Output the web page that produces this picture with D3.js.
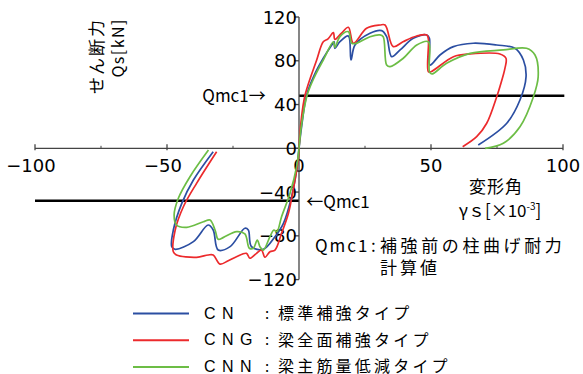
<!DOCTYPE html>
<html><head><meta charset="utf-8">
<script src="https://cdn.jsdelivr.net/npm/d3@7"></script>
<style>body{margin:0;background:#fff}svg{display:block}</style>
</head><body>
<script>
// ---- data ----
const xTicks = [-100, -50, 0, 50, 100];
const xMinor = [-75, -25, 25, 75];
const yTicks = [120, 80, 40, 0, -40, -80, -120];
const qmc1 = 48;

const cnPos = [[0,0],[1,20],[2.9,48.7],[6,68],[9.2,82.3],[12.4,94.4],[13.3,97.4],[13.6,91.4],[15.5,97.4],[18.7,102.6],[19.7,80.7],[21.2,94.4],[26.9,105.1],[31.3,107.5],[33.2,102],[35.1,83.7],[38.3,89.9],[43.3,100.5],[48.4,103.6],[49.4,100.5],[49.6,76.1],[53.4,85.3],[58.5,92.9],[66,96],[74.9,94.4],[81.8,91.4],[85,80.7],[86,65.4],[83.7,44.1],[78.7,22.9],[67.9,3]];
const cnNeg = [[0,0],[-0.9,-19.8],[-2.8,-44.2],[-5.9,-68.6],[-9.1,-80.8],[-13.5,-92.3],[-18,-89.9],[-19.2,-74.7],[-20.5,-73.1],[-26.1,-89.9],[-30.6,-93],[-32.5,-74.7],[-34.4,-70.1],[-40,-85.3],[-46.9,-92.3],[-48.2,-89.9],[-47.6,-74.7],[-44.4,-50.3],[-40,-29],[-32.5,-3.1]];
const cngPos = [[0,0],[0.8,25],[2.3,48.7],[6.7,80.7],[9.2,97.4],[11,100],[13,105.7],[13.6,99.6],[16,105],[18.7,110.6],[20.6,96],[25.6,109.7],[30.7,112.7],[32.6,112.7],[35.7,92.9],[39.4,97.4],[44.6,102.6],[48.4,103.6],[49,100],[49,70],[50,70],[58.5,83.7],[64.8,86.2],[76.1,86.2],[78.4,82.3],[78,73],[76.1,56.3],[74.9,47.2],[71.1,22.9],[67.3,10.6],[62,1.5]];
const cngNeg = [[0,0],[-0.3,-10.7],[-2.2,-38.1],[-4,-59.4],[-6.6,-77.7],[-9.1,-93],[-11,-94.5],[-12.9,-99.6],[-14.2,-93],[-16.1,-96],[-18.6,-100.5],[-19.9,-96],[-23.7,-99.1],[-26.8,-102.7],[-29.9,-105.8],[-32.5,-97.5],[-34.4,-97.5],[-38.8,-99.6],[-46.4,-97.5],[-47.6,-94.5],[-46.9,-74.7],[-43.8,-53.4],[-38.8,-32],[-31.2,-3.1]];
const cnnPos = [[0,0],[1,22],[3.1,48.7],[6,66],[9.2,80.7],[13,97.4],[13.6,92.3],[15.5,102],[18.7,106.6],[20,96],[21.8,96],[26.9,102],[30.7,103.6],[31.9,102],[33.2,76.1],[34.5,74.6],[39.5,82.3],[44.6,94.4],[49,97.4],[49.4,70],[50.3,67.9],[55.9,77.7],[64.8,86.8],[77.4,89.9],[86.2,91.4],[89.4,85.3],[90.6,65.4],[88.8,47.2],[83.7,19.7],[77.4,4.6],[70.5,0]];
const cnnNeg = [[0,0],[-0.9,-16.8],[-3.4,-41.1],[-6.6,-62.5],[-8.4,-76.2],[-9.5,-74.7],[-11,-80.8],[-13.5,-93],[-14.8,-89.9],[-15.8,-83.8],[-17.3,-91.4],[-18.8,-91.4],[-20.5,-78.3],[-23.6,-76.2],[-28.6,-81.4],[-30.6,-83.2],[-31.8,-74.7],[-33.7,-65.5],[-36.2,-67.1],[-42.5,-72.2],[-46.4,-70.1],[-47.3,-61],[-45.7,-45.7],[-41.3,-26],[-34.3,-1.6]];

const series = [
  {key:"CN", label:"標準補強タイプ", color:"#2b4ea2", pos:cnPos, neg:cnNeg},
  {key:"CNG", label:"梁全面補強タイプ", color:"#ec2a2c", pos:cngPos, neg:cngNeg},
  {key:"CNN", label:"梁主筋量低減タイプ", color:"#6cbd45", pos:cnnPos, neg:cnnNeg}
];

// ---- drawing ----
const W = 583, H = 374;
const svg = d3.select("body").append("svg").attr("width", W).attr("height", H);
const x = d3.scaleLinear().domain([-100, 100]).range([35, 563]);
const y = d3.scaleLinear().domain([-120, 120]).range([279.6, 17]);
const jp = "'Noto Sans CJK JP', sans-serif";
const num = "'DejaVu Sans', sans-serif";
const axisCol = "#444";

// Qmc1 lines
svg.append("line").attr("x1", x(0)).attr("x2", x(100.5)).attr("y1", y(qmc1)).attr("y2", y(qmc1))
  .attr("stroke", "#000").attr("stroke-width", 2.4);
svg.append("line").attr("x1", x(-100)).attr("x2", x(0)).attr("y1", y(-qmc1)).attr("y2", y(-qmc1))
  .attr("stroke", "#000").attr("stroke-width", 2.4);

// x axis
const gx = svg.append("g");
gx.append("line").attr("x1", x(-100)).attr("x2", x(100)).attr("y1", y(0)).attr("y2", y(0))
  .attr("stroke", axisCol).attr("stroke-width", 1.3);
gx.selectAll(".xt").data(xTicks).enter().append("line")
  .attr("x1", d => x(d)).attr("x2", d => x(d)).attr("y1", y(0) - 4).attr("y2", y(0) + 2)
  .attr("stroke", axisCol).attr("stroke-width", 1.3);
gx.selectAll(".xm").data(xMinor).enter().append("line")
  .attr("x1", d => x(d)).attr("x2", d => x(d)).attr("y1", y(0) - 2.5).attr("y2", y(0))
  .attr("stroke", axisCol).attr("stroke-width", 1);
gx.selectAll(".xl").data(xTicks).enter().append("text")
  .attr("x", d => x(d) + (d < 0 ? -4 : 0)).attr("y", y(0) + 24)
  .attr("text-anchor", "middle").attr("font-family", num).attr("font-size", 18)
  .text(d => d < 0 ? "\u2212" + Math.abs(d) : d);

// y axis
const gy = svg.append("g");
gy.append("line").attr("x1", x(0)).attr("x2", x(0)).attr("y1", y(120)).attr("y2", y(-120))
  .attr("stroke", axisCol).attr("stroke-width", 1.3);
gy.selectAll(".yt").data(yTicks).enter().append("line")
  .attr("x1", x(0) - 5).attr("x2", x(0)).attr("y1", d => y(d)).attr("y2", d => y(d))
  .attr("stroke", axisCol).attr("stroke-width", 1.3);
gy.selectAll(".yl").data(yTicks).enter().append("text")
  .attr("x", x(0) - 2).attr("y", d => y(d) + 6.5)
  .attr("text-anchor", "end").attr("font-family", num).attr("font-size", 18)
  .text(d => d < 0 ? "\u2212" + Math.abs(d) : d);

// curves
const line = d3.line().x(d => x(d[0])).y(d => y(d[1])).curve(d3.curveCatmullRom.alpha(0.5));
series.forEach(s => {
  [s.pos, s.neg].forEach(arr => {
    svg.append("path").attr("d", line(arr)).attr("fill", "none")
      .attr("stroke", s.color).attr("stroke-width", 1.7);
  });
});

// axis titles
svg.append("text").attr("transform", "translate(97,18) rotate(-90)")
  .attr("text-anchor", "end").attr("font-family", jp).attr("font-size", 17).attr("dy", "0.35em")
  .attr("letter-spacing", 2).text("せん断力");
svg.append("text").attr("transform", "translate(118,18) rotate(-90)")
  .attr("text-anchor", "end").attr("font-family", jp).attr("font-size", 16).attr("dy", "0.35em")
  .attr("letter-spacing", 1.5).text("Qs[kN]");

svg.append("text").attr("x", 234).attr("y", 102).attr("text-anchor", "middle")
  .attr("font-family", jp).attr("font-size", 17).text("Qmc1→");
svg.append("text").attr("x", 338).attr("y", 208).attr("text-anchor", "middle")
  .attr("font-family", jp).attr("font-size", 17).text("←Qmc1");

svg.append("text").attr("x", 496).attr("y", 193).attr("text-anchor", "middle")
  .attr("font-family", jp).attr("font-size", 17).attr("letter-spacing", 1).text("変形角");
const gs = svg.append("text").attr("x", 500).attr("y", 217).attr("text-anchor", "middle")
  .attr("font-family", jp).attr("font-size", 17);
gs.append("tspan").text("γｓ[×10");
gs.append("tspan").attr("font-size", 10).attr("dy", -7).text("-3");
gs.append("tspan").attr("dy", 7).text("]");

svg.append("text").attr("x", 315).attr("y", 252).attr("font-family", jp).attr("font-size", 17)
  .attr("letter-spacing", 2).text("Qmc1");
svg.append("text").attr("x", 371).attr("y", 252).attr("font-family", jp).attr("font-size", 17).text(":");
svg.append("text").attr("x", 380).attr("y", 252).attr("font-family", jp).attr("font-size", 17)
  .attr("letter-spacing", 3.6).text("補強前の柱曲げ耐力");
svg.append("text").attr("x", 380).attr("y", 274).attr("font-family", jp).attr("font-size", 17)
  .attr("letter-spacing", 3).text("計算値");

// legend
const lg = svg.append("g");
series.forEach((s, i) => {
  const ly = 313.5 + i * 26.7;
  lg.append("line").attr("x1", 133).attr("x2", 189).attr("y1", ly).attr("y2", ly)
    .attr("stroke", s.color).attr("stroke-width", 2);
  s.key.split("").forEach((c, j) => {
    lg.append("text").attr("x", 204 + j * 18).attr("y", ly + 5).attr("font-family", "'Liberation Sans', sans-serif")
      .attr("font-size", 16).text(c);
  });
  lg.append("text").attr("x", 265).attr("y", ly + 5).attr("font-family", jp).attr("font-size", 15).text(":");
  lg.append("text").attr("x", 278).attr("y", ly + 5.5).attr("font-family", jp).attr("font-size", 16)
    .attr("letter-spacing", 3.2).text(s.label);
});
</script>
</body></html>
